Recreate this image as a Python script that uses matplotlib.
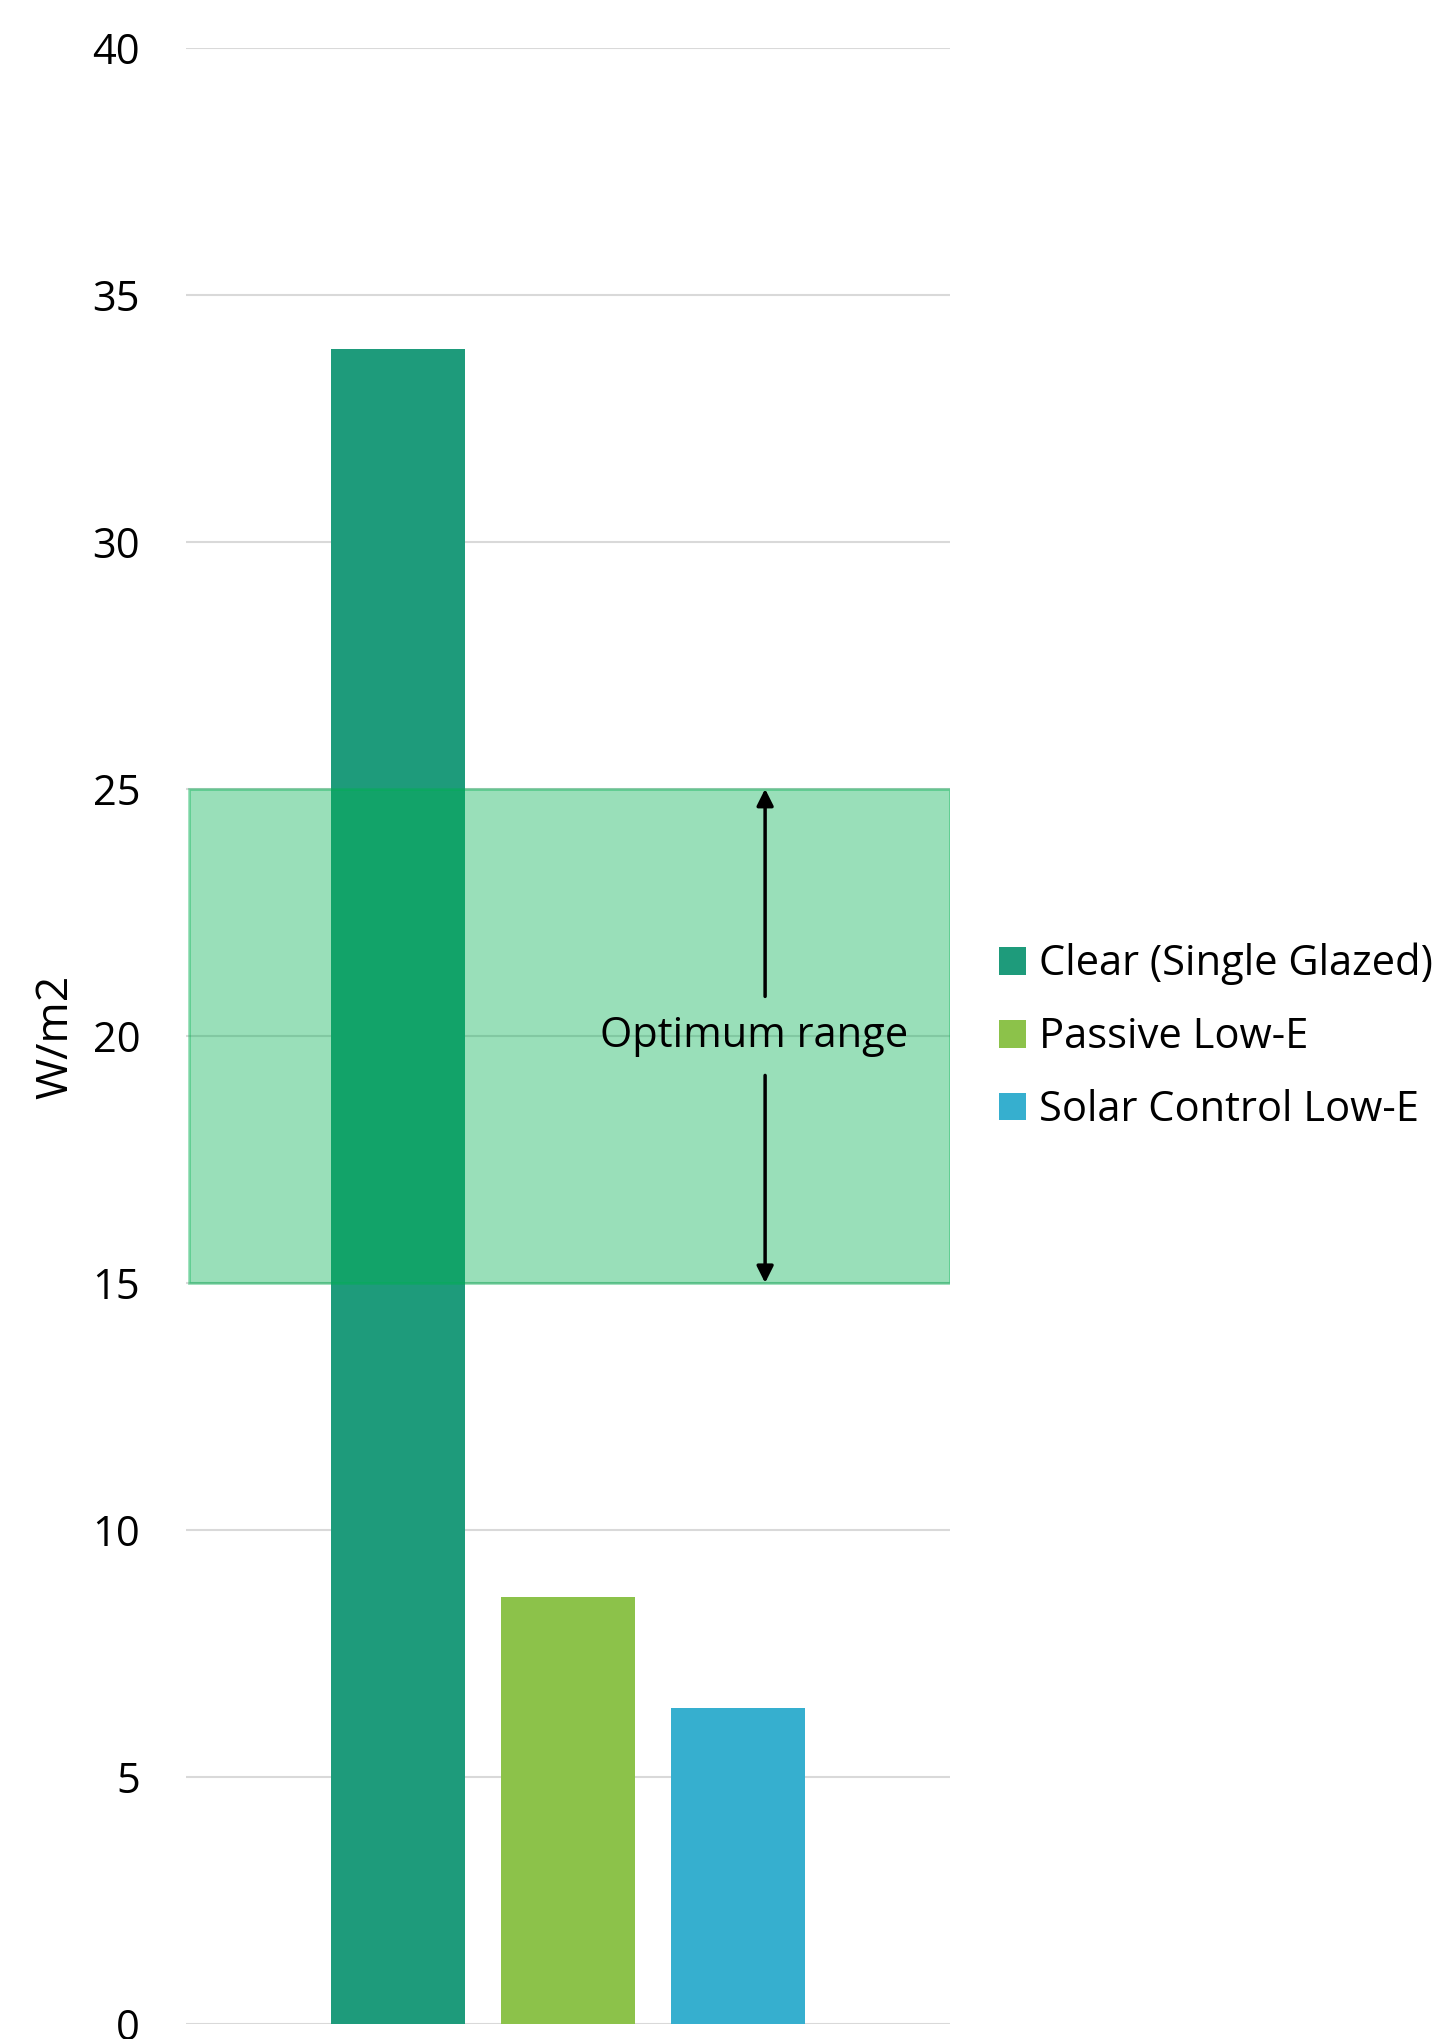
import matplotlib.pyplot as plt
from matplotlib.patches import Patch

# data
series = ["Clear (Single Glazed)", "Passive Low-E", "Solar Control Low-E"]
values = [33.9, 8.65, 6.4]
colors = ["#1E9B7B", "#8CC24A", "#36AFCF"]
optimum_low, optimum_high = 15, 25
yticks = [0, 5, 10, 15, 20, 25, 30, 35, 40]

plt.rcParams["font.family"] = ["Open Sans", "DejaVu Sans"]
FS = 30

fig = plt.figure(figsize=(14.32, 20.39), dpi=100)
ax = fig.add_axes([0.1299, 0.0074, 0.5335, 0.9691])

bar_w = 0.175
step = 0.2225
offsets = [(i - (len(series) - 1) / 2) * step for i in range(len(series))]
for off, v, c, name in zip(offsets, values, colors, series):
    ax.bar(off, v, width=bar_w, color=c, label=name, zorder=2)

# optimum range band
ax.axhspan(optimum_low, optimum_high, xmin=0.004, xmax=1.0,
           facecolor="#00B050", edgecolor="#00B050", alpha=0.4,
           linewidth=2, zorder=3)

mid = (optimum_low + optimum_high) / 2
arrow_x = 0.258
ax.annotate("", xy=(arrow_x, optimum_high), xytext=(arrow_x, mid + 0.8),
            arrowprops=dict(arrowstyle="-|>", color="black", lw=2.5,
                            mutation_scale=25, shrinkA=0, shrinkB=0),
            zorder=4)
ax.annotate("", xy=(arrow_x, optimum_low), xytext=(arrow_x, mid - 0.8),
            arrowprops=dict(arrowstyle="-|>", color="black", lw=2.5,
                            mutation_scale=25, shrinkA=0, shrinkB=0),
            zorder=4)
ax.text(0.2435, mid, "Optimum range", ha="center", va="center",
        fontsize=FS, zorder=5)

ax.set_xlim(-0.5, 0.5)
ax.set_ylim(0, 40)
ax.set_yticks(yticks)
ax.set_xticks([])
ax.tick_params(axis="y", length=0, pad=33, labelsize=FS)
ax.grid(axis="y", color="#D9D9D9", linewidth=1.5, zorder=0)
ax.set_axisbelow(True)
for s in ax.spines.values():
    s.set_visible(False)

fig.text(56 / 1432, 1 - 1037 / 2039, "W/m2", rotation=90,
         ha="center", va="center", fontsize=FS + 2)

handles = [Patch(facecolor=c, label=n) for c, n in zip(colors, series)]
fig.legend(handles=handles, loc="center left",
           bbox_to_anchor=(999 / 1432, 1 - 1037 / 2039),
           frameon=False, fontsize=FS, borderpad=0, borderaxespad=0,
           handlelength=0.65, handleheight=0.65, handletextpad=0.3,
           labelspacing=0.74)

fig.savefig("out.png", dpi=100)
